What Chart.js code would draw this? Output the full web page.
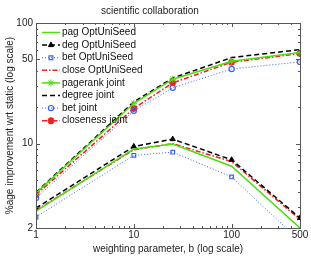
<!DOCTYPE html>
<html>
<head>
<meta charset="utf-8">
<script src="https://cdn.jsdelivr.net/npm/chart.js@4/dist/chart.umd.min.js"></script>
<style>
  html, body { margin: 0; padding: 0; background: #fff; }
  #wrap { width: 311px; height: 256px; }
</style>
</head>
<body>
<div id="wrap"><canvas id="chart" width="311" height="256"></canvas></div>
<script>
// weighting parameter b
const bValues = [1, 10, 25, 100, 500];

// OptUniSeed series (lower group)
const pagOpt = [2.76, 9.05, 9.95, 6.5, 2.0];
const degOpt = [2.92, 9.48, 10.9, 7.35, 2.42];
const betOpt = [2.47, 8.0, 8.5, 5.3, 1.56];
const closeOpt = [2.8, 8.9, 10.0, 7.1, 2.35];

// joint series (upper group)
const pagJoint = [3.89, 21.6, 34.2, 48.2, 56.9];
const degJoint = [3.95, 22.2, 35.0, 51.7, 60.2];
const betJoint = [3.55, 18.7, 29.0, 41.6, 47.6];
const closeJoint = [3.77, 19.6, 31.9, 47.3, 55.8];

const xTicks = [1, 10, 100, 500];
const yTicks = [2, 10, 50, 100];
const xMinor = [2, 3, 4, 5, 6, 7, 8, 9, 20, 30, 40, 50, 60, 70, 80, 90, 200, 300, 400];
const yMinor = [3, 4, 5, 6, 7, 8, 9, 20, 30, 40, 60, 70, 80, 90];

const GREEN = '#4fdc10';
const BLACK = '#000000';
const BLUE = '#3a62f0';
const RED = '#ee2020';

function pts(arr) {
    return arr.map((v, i) => ({ x: bValues[i], y: v }));
}

const datasets = [
    { label: 'pag OptUniSeed', data: pts(pagOpt), borderColor: GREEN, borderWidth: 1.5, borderDash: [], pointStyle: false, pointRadius: 0 },
    { label: 'deg OptUniSeed', data: pts(degOpt), borderColor: BLACK, borderWidth: 1.5, borderDash: [5, 3], pointStyle: 'triangle', pointRadius: 3, pointBackgroundColor: BLACK, pointBorderColor: BLACK, pointBorderWidth: 1 },
    { label: 'bet OptUniSeed', data: pts(betOpt), borderColor: BLUE, borderWidth: 1, borderDash: [1, 2], pointStyle: 'rect', pointRadius: 2.6, pointBackgroundColor: 'rgba(0,0,0,0)', pointBorderColor: BLUE, pointBorderWidth: 1.2 },
    { label: 'close OptUniSeed', data: pts(closeOpt), borderColor: RED, borderWidth: 1.5, borderDash: [5, 2, 1.5, 2], pointStyle: false, pointRadius: 0 },
    { label: 'pagerank joint', data: pts(pagJoint), borderColor: GREEN, borderWidth: 1.5, borderDash: [], pointStyle: 'star', pointRadius: 3.5, pointBackgroundColor: GREEN, pointBorderColor: GREEN, pointBorderWidth: 1 },
    { label: 'degree joint', data: pts(degJoint), borderColor: BLACK, borderWidth: 1.5, borderDash: [5, 3], pointStyle: false, pointRadius: 0 },
    { label: 'bet joint', data: pts(betJoint), borderColor: BLUE, borderWidth: 1, borderDash: [1, 2], pointStyle: 'circle', pointRadius: 2.6, pointBackgroundColor: 'rgba(0,0,0,0)', pointBorderColor: BLUE, pointBorderWidth: 1.2 },
    { label: 'closeness joint', data: pts(closeJoint), borderColor: RED, borderWidth: 1.5, borderDash: [5, 2, 1.5, 2], pointStyle: 'star', pointRadius: 3.5, pointBackgroundColor: RED, pointBorderColor: RED, pointBorderWidth: 2 }
];
datasets.forEach(d => { d.fill = false; d.tension = 0; });

// box around the plot with inward major/minor ticks on all four sides
const boxTicks = {
    id: 'boxTicks',
    afterDraw(chart) {
        const { ctx, chartArea: a, scales } = chart;
        const sx = scales.x, sy = scales.y;
        ctx.save();
        ctx.strokeStyle = '#555';
        ctx.lineWidth = 1;
        ctx.setLineDash([]);
        ctx.strokeRect(Math.round(a.left) + 0.5, Math.round(a.top) + 0.5, Math.round(a.right - a.left), Math.round(a.bottom - a.top));
        ctx.beginPath();
        const tickX = (v, len) => {
            const x = Math.round(sx.getPixelForValue(v)) + 0.5;
            ctx.moveTo(x, a.bottom); ctx.lineTo(x, a.bottom - len);
            ctx.moveTo(x, a.top); ctx.lineTo(x, a.top + len);
        };
        const tickY = (v, len) => {
            const y = Math.round(sy.getPixelForValue(v)) + 0.5;
            ctx.moveTo(a.left, y); ctx.lineTo(a.left + len, y);
            ctx.moveTo(a.right, y); ctx.lineTo(a.right - len, y);
        };
        xTicks.forEach(v => tickX(v, 4));
        xMinor.forEach(v => tickX(v, 2));
        yTicks.forEach(v => tickY(v, 4));
        yMinor.forEach(v => tickY(v, 2));
        ctx.stroke();
        ctx.restore();
    }
};

// legend inside the plot, top-left, with line samples and markers
const insideLegend = {
    id: 'insideLegend',
    afterDraw(chart) {
        const { ctx, chartArea: a } = chart;
        const x0 = a.left + 6, x1 = a.left + 24, tx = a.left + 26;
        let y = a.top + 9.5;
        ctx.save();
        ctx.font = '10px "Liberation Sans", Arial, sans-serif';
        ctx.textBaseline = 'middle';
        chart.data.datasets.forEach(d => {
            ctx.strokeStyle = d.borderColor;
            ctx.lineWidth = d.borderWidth;
            ctx.setLineDash(d.borderDash);
            ctx.beginPath();
            ctx.moveTo(x0, y); ctx.lineTo(x1, y);
            ctx.stroke();
            ctx.setLineDash([]);
            if (d.pointStyle && Chart.helpers && Chart.helpers.drawPoint) {
                ctx.strokeStyle = d.pointBorderColor;
                ctx.fillStyle = d.pointBackgroundColor;
                ctx.lineWidth = d.pointBorderWidth;
                Chart.helpers.drawPoint(ctx, { pointStyle: d.pointStyle, radius: d.pointRadius, rotation: 0, borderWidth: d.pointBorderWidth }, (x0 + x1) / 2, y);
            }
            ctx.fillStyle = '#111';
            ctx.fillText(d.label, tx, y);
            y += 12.6;
        });
        ctx.restore();
    }
};

const FONT = { family: '"Liberation Sans", Arial, sans-serif', size: 10, weight: 'normal' };

new Chart(document.getElementById('chart'), {
    type: 'line',
    data: { datasets: datasets },
    options: {
        responsive: false,
        animation: false,
        layout: { padding: { left: 0, right: 11, top: 0, bottom: 0 } },
        plugins: {
            legend: { display: false },
            tooltip: { enabled: false },
            title: {
                display: true,
                text: 'scientific collaboration',
                color: '#222',
                font: FONT,
                padding: { top: 5, bottom: 6 }
            }
        },
        scales: {
            x: {
                type: 'logarithmic',
                min: 1,
                max: 500,
                grid: { display: false, drawTicks: false },
                border: { display: false },
                afterBuildTicks: s => { s.ticks = xTicks.map(v => ({ value: v })); },
                afterFit: s => { s.height = 28; },
                ticks: { color: '#222', font: FONT, padding: 1, autoSkip: false, maxRotation: 0, callback: v => String(v) },
                title: { display: true, text: 'weighting parameter, b (log scale)', color: '#222', font: FONT, padding: { top: 0, bottom: 1 } }
            },
            y: {
                type: 'logarithmic',
                min: 2,
                max: 100,
                grid: { display: false, drawTicks: false },
                border: { display: false },
                afterBuildTicks: s => { s.ticks = yTicks.map(v => ({ value: v })); },
                afterFit: s => { s.width = 36; },
                ticks: { color: '#222', font: FONT, padding: 3, autoSkip: false, callback: v => String(v) },
                title: { display: true, text: '%age improvement wrt static (log scale)', color: '#222', font: FONT, padding: { top: 4, bottom: 0 } }
            }
        }
    },
    plugins: [boxTicks, insideLegend]
});
</script>
</body>
</html>
